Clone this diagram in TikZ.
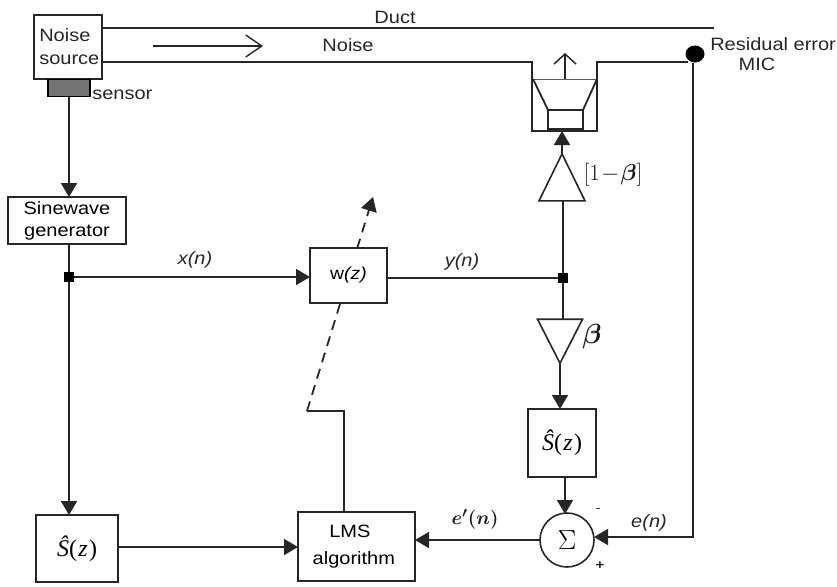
\documentclass[tikz,border=0pt]{standalone}
\usepackage{fontspec}
\usepackage{amsmath}
\setmainfont[FakeStretch=1.12]{Liberation Sans}
\newfontfamily\serifface{Liberation Serif}
\usetikzlibrary{arrows.meta,shapes.geometric,calc}
\def\px{0.75pt}
\newcommand{\shatz}{{\serifface\fontsize{18pt}{20pt}\selectfont\textit{Ŝ}(\kern1pt\textit{z}\kern1pt)}}
\tikzset{
  line/.style={line width=1.8*\px,draw=black!85},
  arr/.style={line,-{Triangle[length=14*\px,width=16*\px]}},
  blockbox/.style={draw=black!85,line width=2*\px,fill=white,inner sep=0,outer sep=0,align=center},
  amp/.style={draw=black!85,line width=1.6*\px,isosceles triangle,isosceles triangle stretches,inner sep=0,outer sep=0,fill=white},
  dot/.style={fill=black,inner sep=0,outer sep=0,minimum size=10*\px},
  label/.style={font=\fontsize{13.4pt}{16pt}\selectfont,text=black!85,inner sep=0,align=center},
  ital/.style={font=\fontsize{13.4pt}{16pt}\selectfont\itshape,text=black!85,inner sep=0},
  mathlabel/.style={text=black!90,inner sep=0},
}
\begin{document}
\begin{tikzpicture}[x=0.75pt,y=-0.75pt]
\useasboundingbox (0,0) rectangle (837,586);
% duct
\node[blockbox,minimum width=68*\px,minimum height=64*\px] (src) at (68,47) {};
\node[label,anchor=west] (srct1) at (39,35) {Noise};
\node[label,anchor=west] (srct2) at (39,60) {source};
\node[draw=black,line width=1.8*\px,fill=black!55,minimum width=42*\px,minimum height=17*\px,inner sep=0,outer sep=0] (sensor) at (69,88) {};
\coordinate (ductA) at (102,28);
\coordinate (ductB) at (714,28);
\coordinate (ductC) at (102,62);
\coordinate (spkTL) at (532,62);
\coordinate (spkBL) at (532,131);
\coordinate (spkBR) at (597,131);
\coordinate (spkTR) at (597,62);
\node[fill=black,ellipse,minimum width=19*\px,minimum height=17*\px,inner sep=0,outer sep=0] (mic) at (695,54) {};
\draw[line] (ductA) -- (ductB);
\draw[line] (ductC) -- (spkTL) -- (spkBL) -- (spkBR) -- (spkTR) -- (mic.south west |- spkTR);
% speaker
\coordinate (coneL) at (533,79);
\coordinate (coneR) at (597,79);
\coordinate (coneTop) at (565,79);
\coordinate (coneTip) at (565,53);
\node[draw=black!85,line width=1.7*\px,minimum width=35*\px,minimum height=19*\px,inner sep=0,outer sep=0] (coil) at (565.5,119.5) {};
\draw[line width=1*\px,draw=black!65] (coneL) -- (coneR);
\draw[line] (coneL) -- (coil.north west);
\draw[line] (coneR) -- (coil.north east);
\draw[line width=1.5*\px,draw=black!85,-{Straight Barb[length=10*\px,width=22*\px]}] (coneTop) -- (coneTip);
\draw[line width=2.8*\px,draw=black!85] (coil.south west) -- (coil.south east);
% noise arrow
\coordinate (naL) at (153,46);
\coordinate (naR) at (263,46);
\draw[line width=1.4*\px,draw=black!85,-{Straight Barb[length=16*\px,width=22*\px]}] (naL) -- (naR);
\node[label] (duct) at (395,17) {Duct};
\node[label] (noise) at (348,45) {Noise};
\node[label,anchor=west] (sens) at (92,95) {sensor};
\node[label,anchor=west] (resid) at (710,44) {Residual error};
\node[label] (micl) at (757,64) {MIC};
% blocks
\node[blockbox,minimum width=118*\px,minimum height=47*\px,font=\fontsize{13.4pt}{16.5pt}\selectfont] (gen) at (67,220.5) {Sinewave\\generator};
\node[dot] (j1) at (69,277) {};
\node[dot] (j2) at (563,278) {};
\node[blockbox,minimum width=82*\px,minimum height=67*\px] (s1) at (77,548.5) {\shatz};
\node[blockbox,minimum width=117*\px,minimum height=69*\px,font=\fontsize{13.4pt}{20pt}\selectfont] (lms) at (356.5,546.5) {\hspace*{-10pt}LMS\\\hspace*{-4pt}algorithm};
\node[blockbox,minimum width=68*\px,minimum height=68*\px] (s2) at (562,443) {\shatz};
\node[blockbox,circle,minimum size=54*\px,line width=1.6*\px] (sum) at (567,540) {\fontsize{20pt}{22pt}\selectfont$\Sigma$};
% dashed adaptation line, behind w
\coordinate (dA) at (307,411);
\coordinate (dB) at (373,197);
\coordinate (dK) at (344,411);
\draw[line,dash pattern=on 10*\px off 7*\px,-{Triangle[length=14*\px,width=16*\px]}] (dA) -- (dB);
\node[blockbox,minimum width=77*\px,minimum height=55*\px,font=\fontsize{13pt}{15pt}\selectfont] (w) at (348.5,275.5) {w\textit{(z)}};
% amps
\node[amp,shape border rotate=90,minimum height=47*\px,minimum width=46*\px] (ampu) at (562,186.5) {};
\node[amp,shape border rotate=-90,minimum height=44*\px,minimum width=45*\px] (ampd) at (560,333) {};
% connectors
\draw[arr] (sensor.south) -- (sensor.south |- gen.north);
\draw[line] (j1 |- gen.south) -- (j1);
\draw[arr] (j1) -- (w.west |- j1);
\draw[arr] (j1) -- (j1 |- s1.north);
\draw[line] (w.east |- j2) -- (j2);
\draw[line] (j2 |- ampu.south) -- (j2);
\draw[line] (j2) -- (j2 |- ampd.north);
\draw[arr] (ampu.north) -- (ampu.north |- spkBL);
\draw[arr] (ampd.south) -- (ampd.south |- s2.north);
\draw[arr] (s2.south -| 565,0) -- (565,514);
\draw[arr] (s1.east |- 0,547) -- (lms.west |- 0,547);
\draw[arr] (sum.west) -- (lms.east |- sum.west);
\draw[arr] (mic.south -| 693,0) -- (693,537) -- (sum.east |- 0,537);
\draw[line] (lms.north -| dK) -- (dK) -- (dA);
% labels
\node[ital] (xn) at (195,260) {x(n)};
\node[ital] (yn) at (462,262) {y(n)};
\node[ital] (en) at (649,523) {e(n)};
\node[mathlabel] (epn) at (475,519) {\fontsize{15pt}{17pt}\selectfont$\boldsymbol{e'(n)}$};
\node[mathlabel] (beta1) at (592,337) {\fontsize{22pt}{24pt}\selectfont$\boldsymbol{\beta}$};
\node[mathlabel] (beta2) at (613,175) {\fontsize{19pt}{22pt}\selectfont$[1\!-\!\boldsymbol{\beta}]$};
\node[label,font=\fontsize{10pt}{12pt}\selectfont] (minus) at (598,510) {-};
\node[label,font=\fontsize{10pt}{12pt}\selectfont\bfseries] (plus) at (600,566) {+};
\end{tikzpicture}
\end{document}
